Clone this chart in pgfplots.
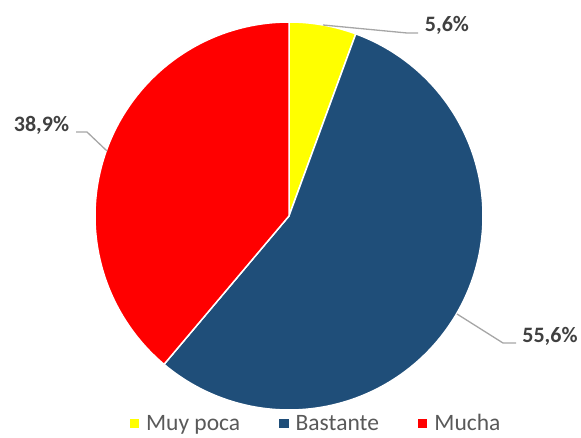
\documentclass[border=0pt]{standalone}
\usepackage{pgfplots}
\pgfplotsset{compat=1.18}
\usepackage{pgfplotstable}
\usepackage{fontspec}
\setmainfont{Carlito}
\definecolor{cyel}{HTML}{FFFF00}
\definecolor{cblue}{HTML}{1F4E79}
\definecolor{cred}{HTML}{FF0000}
\definecolor{lead}{HTML}{A6A6A6}
\definecolor{lbl}{HTML}{404040}
\definecolor{legc}{HTML}{595959}
\pgfplotstableread{
label value
MuyPoca 5.6
Bastante 55.6
Mucha 38.9
}\piedata
\begin{document}
\begin{tikzpicture}
\pgfplotstablegetelem{0}{value}\of\piedata \let\va\pgfplotsretval
\pgfplotstablegetelem{1}{value}\of\piedata \let\vb\pgfplotsretval
\pgfplotstablegetelem{2}{value}\of\piedata \let\vc\pgfplotsretval
\pgfmathsetmacro\tot{\va+\vb+\vc}
\pgfmathsetmacro\aA{90}
\pgfmathsetmacro\aB{90-(\va/\tot)*360}
\pgfmathsetmacro\aC{\aB-(\vb/\tot)*360}
\pgfmathsetmacro\aD{\aC-(\vc/\tot)*360}
\useasboundingbox (0,0) rectangle (581pt,437pt);
\begin{axis}[at={(0,0)}, anchor=south west, scale only axis,
  width=581pt, height=437pt, xmin=0, xmax=581, ymin=0, ymax=437,
  hide axis, clip=false,
  legend columns=3,
  legend style={draw=none, fill=none, at={(axis cs:316,13.5)}, anchor=center,
    font=\fontsize{23.5}{26}\selectfont, text=legc,
    /tikz/every odd column/.append style={column sep=5pt},
    /tikz/every even column/.append style={column sep=37pt}},
  legend image code/.code={\fill[#1, draw=none] (0pt,-4.5pt) rectangle (9.5pt,5pt);},
]
\addplot[fill=cyel, draw=white, line width=1.5pt, line join=round, domain=\aB:\aA, samples=40, variable=\t]
  ({289+194*cos(\t)},{221+194*sin(\t)}) -- (axis cs:289,221) -- cycle;
\addlegendentry{Muy poca}
\addplot[fill=cblue, draw=white, line width=1.5pt, line join=round, domain=\aC:\aB, samples=150, variable=\t]
  ({289+194*cos(\t)},{221+194*sin(\t)}) -- (axis cs:289,221) -- cycle;
\addlegendentry{Bastante}
\addplot[fill=cred, draw=white, line width=1.5pt, line join=round, domain=\aD:\aC, samples=120, variable=\t]
  ({289+194*cos(\t)},{221+194*sin(\t)}) -- (axis cs:289,221) -- cycle;
\addlegendentry{Mucha}
\addplot[lead, line width=1.3pt, forget plot] coordinates {(323,412) (407,404) (418,404)};
\addplot[lead, line width=1.3pt, forget plot] coordinates {(76,305) (87,305) (107,286)};
\addplot[lead, line width=1.3pt, forget plot] coordinates {(457,123) (503,94) (516,94)};
\node[font=\bfseries\fontsize{22}{26}\selectfont, text=lbl, anchor=center] at (axis cs:447,412) {5,6\%};
\node[font=\bfseries\fontsize{22}{26}\selectfont, text=lbl, anchor=center] at (axis cs:41.5,312) {38,9\%};
\node[font=\bfseries\fontsize{22}{26}\selectfont, text=lbl, anchor=center] at (axis cs:550,101) {55,6\%};
\end{axis}
\end{tikzpicture}
\end{document}
